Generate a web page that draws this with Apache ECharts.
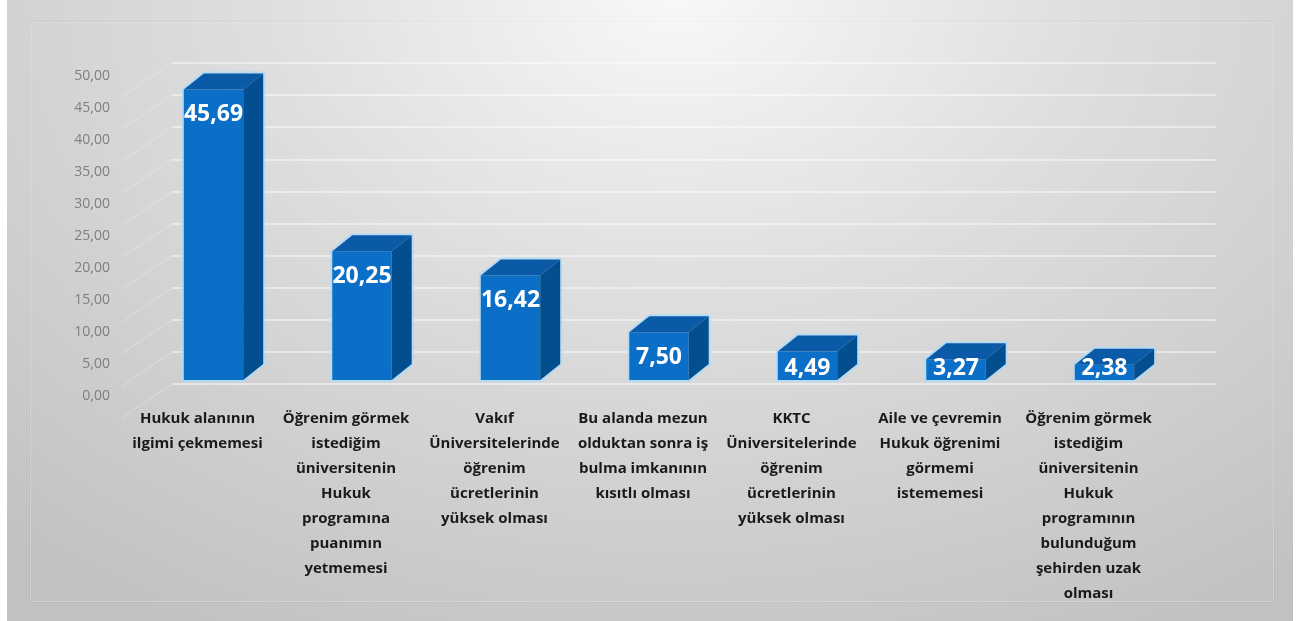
<!DOCTYPE html>
<html>
<head>
<meta charset="utf-8">
<script src="https://cdn.jsdelivr.net/npm/echarts@6/dist/echarts.min.js"></script>
<style>
  html, body { margin: 0; padding: 0; background: #ffffff; }
  #frame {
    position: absolute; left: 7px; top: 0; width: 1286px; height: 621px;
    background: radial-gradient(ellipse 78% 115% at 52% 0%, #f8f8f8 0%, #dedede 42%, #c2c2c2 100%);
  }
  #panel {
    position: absolute; left: 23px; top: 22px; width: 1242px; height: 578px;
    border: 1px solid rgba(255,255,255,0.22);
    box-shadow: 0 0 0 1px rgba(0,0,0,0.03);
  }
  #main { position: absolute; left: 0; top: 0; width: 1298px; height: 621px; }
</style>
</head>
<body>
<div id="frame"><div id="panel"></div></div>
<div id="main"></div>
<script>
// categories as wrapped in the picture
var categories = [
  'Hukuk alanının\nilgimi çekmemesi',
  'Öğrenim görmek\nistediğim\nüniversitenin\nHukuk\nprogramına\npuanımın\nyetmemesi',
  'Vakıf\nÜniversitelerinde\nöğrenim\nücretlerinin\nyüksek olması',
  'Bu alanda mezun\nolduktan sonra iş\nbulma imkanının\nkısıtlı olması',
  'KKTC\nÜniversitelerinde\nöğrenim\nücretlerinin\nyüksek olması',
  'Aile ve çevremin\nHukuk öğrenimi\ngörmemi\nistememesi',
  'Öğrenim görmek\nistediğim\nüniversitenin\nHukuk\nprogramının\nbulunduğum\nşehirden uzak\nolması'
];
var values = [45.69, 20.25, 16.42, 7.50, 4.49, 3.27, 2.38];
var yTicks = [0, 5, 10, 15, 20, 25, 30, 35, 40, 45, 50];

function fmt(v) { return v.toFixed(2).replace('.', ','); }

var chart = echarts.init(document.getElementById('main'));

var DX = 20, DY = -16; // bar depth

function renderBar(params, api) {
  var topPt = api.coord([api.value(0), api.value(1)]);
  var basePt = api.coord([api.value(0), 0]);
  var w = api.size([1, 0])[0] * 0.4;
  var l = topPt[0] - w / 2, r = topPt[0] + w / 2, t = topPt[1], b = basePt[1];
  var ty = Math.min(t + 25, b - 12);
  return {
    type: 'group',
    children: [
      { type: 'polygon', shape: { points: [[l, b], [l, t], [l + DX, t + DY], [r + DX, t + DY], [r + DX, b + DY], [r, b]] },
        style: { fill: 'none', stroke: 'rgba(175,218,246,0.85)', lineWidth: 4, lineJoin: 'round' } },
      { type: 'rect', shape: { x: l, y: t, width: w, height: b - t }, style: { fill: '#0b6fc7' } },
      { type: 'polygon', shape: { points: [[l, t], [l + DX, t + DY], [r + DX, t + DY], [r, t]] }, style: { fill: '#0a5aa8' } },
      { type: 'polygon', shape: { points: [[r, t], [r + DX, t + DY], [r + DX, b + DY], [r, b]] }, style: { fill: '#034e8e' } },
      { type: 'text', x: topPt[0], y: ty,
        style: { text: fmt(api.value(1)), fill: '#ffffff', font: 'bold 23px "Open Sans"', align: 'center', verticalAlign: 'middle' } }
    ]
  };
}

function renderDiag(params, api) {
  var p = api.coord([0, api.value(0)]);
  return {
    type: 'line',
    shape: { x1: p[0] - 50, y1: p[1] + 34, x2: p[0], y2: p[1] },
    style: { stroke: 'rgba(255,255,255,0.22)', lineWidth: 1.2 }
  };
}

var option = {
  animation: false,
  grid: [
    { left: 139.25, right: 119.25, top: 62, bottom: 241 },   // bars (front)
    { left: 172, right: 82, top: 63, bottom: 237 },          // back wall
    { left: 118, right: 1170, top: 76, bottom: 225 }         // value labels
  ],
  xAxis: [
    { type: 'category', gridIndex: 0, data: categories,
      axisLine: { show: false }, axisTick: { show: false }, splitLine: { show: false },
      axisLabel: { interval: 0, margin: 26, color: '#1a1a1a', fontWeight: 'bold', fontSize: 15,
                   fontFamily: 'Open Sans', lineHeight: 25, padding: [0, 32, 0, 0] } },
    { type: 'value', gridIndex: 1, min: 0, max: 1, show: false },
    { type: 'value', gridIndex: 2, min: 0, max: 1, show: false }
  ],
  yAxis: [
    { type: 'value', gridIndex: 0, min: 0, max: 50, interval: 5, show: false },
    { type: 'value', gridIndex: 1, min: 0, max: 50, interval: 5,
      axisLine: { show: false }, axisTick: { show: false }, axisLabel: { show: false },
      splitLine: { show: true, lineStyle: { color: 'rgba(255,255,255,0.45)', width: 2 } } },
    { type: 'value', gridIndex: 2, min: 0, max: 50, interval: 5,
      axisLine: { show: false }, axisTick: { show: false }, splitLine: { show: false },
      axisLabel: { margin: 8, color: '#7f7f7f', fontSize: 14, fontFamily: 'Open Sans',
                   formatter: function (v) { return fmt(v); } } }
  ],
  series: [
    { type: 'custom', xAxisIndex: 1, yAxisIndex: 1, renderItem: renderDiag, data: yTicks, silent: true, z: 1 },
    { type: 'custom', xAxisIndex: 0, yAxisIndex: 0, renderItem: renderBar,
      data: values.map(function (v, i) { return [i, v]; }), z: 5 }
  ]
};

chart.setOption(option);
</script>
</body>
</html>
